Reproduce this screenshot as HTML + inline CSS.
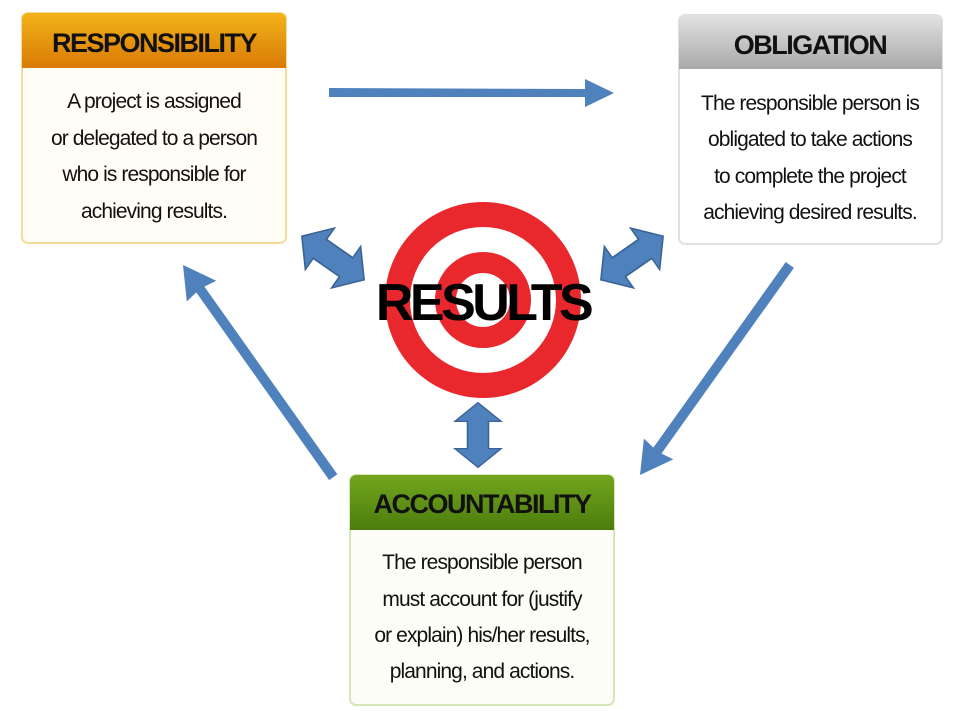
<!DOCTYPE html>
<html><head><meta charset="utf-8"><style>
body{margin:0;background:#fff;}
svg{display:block;}
.b{font-family:"Liberation Sans",sans-serif;font-size:21px;letter-spacing:-0.9px;fill:#111;text-anchor:middle;}
.h{font-family:"Liberation Sans",sans-serif;font-size:27px;font-weight:bold;letter-spacing:-1.5px;fill:#111;text-anchor:middle;}
</style></head><body>
<svg width="959" height="711" viewBox="0 0 959 711" xmlns="http://www.w3.org/2000/svg">
<defs>
<linearGradient id="go" x1="0" y1="0" x2="0" y2="1"><stop offset="0" stop-color="#f3b31a"/><stop offset="1" stop-color="#d97a06"/></linearGradient>
<linearGradient id="gg" x1="0" y1="0" x2="0" y2="1"><stop offset="0" stop-color="#e2e2e2"/><stop offset="1" stop-color="#a9a9a9"/></linearGradient>
<linearGradient id="gn" x1="0" y1="0" x2="0" y2="1"><stop offset="0" stop-color="#73a51f"/><stop offset="1" stop-color="#4c7d0c"/></linearGradient>
<g id="da"><polygon points="-38,0 -16,-22 -16,-10 16,-10 16,-22 38,0 16,22 16,10 -16,10 -16,22" fill="#4f81bd" stroke="#3a6496" stroke-width="1.5"/></g>
</defs>
<rect x="22" y="13" width="264" height="230" rx="6" fill="#fffdf6" stroke="#f6dc9a" stroke-width="2"/>
<path d="M22,68 V19 a6,6 0 0 1 6,-6 H280 a6,6 0 0 1 6,6 V68 Z" fill="url(#go)"/>
<text class="h" x="154" y="52">RESPONSIBILITY</text>
<text class="b" x="154" y="108">A project is assigned</text>
<text class="b" x="154" y="145">or delegated to a person</text>
<text class="b" x="154" y="181">who is responsible for</text>
<text class="b" x="154" y="218">achieving results.</text>
<rect x="679" y="15" width="263" height="229" rx="6" fill="#fff" stroke="#e0e0e0" stroke-width="2"/>
<path d="M679,69 V21 a6,6 0 0 1 6,-6 H936 a6,6 0 0 1 6,6 V69 Z" fill="url(#gg)"/>
<text class="h" x="810" y="54">OBLIGATION</text>
<text class="b" x="810" y="110">The responsible person is</text>
<text class="b" x="810" y="146">obligated to take actions</text>
<text class="b" x="810" y="183">to complete the project</text>
<text class="b" x="810" y="219">achieving desired results.</text>
<rect x="350" y="475" width="264" height="230" rx="6" fill="#fbfdf6" stroke="#d5e6b8" stroke-width="2"/>
<path d="M350,530 V481 a6,6 0 0 1 6,-6 H608 a6,6 0 0 1 6,6 V530 Z" fill="url(#gn)"/>
<text class="h" x="482" y="513">ACCOUNTABILITY</text>
<text class="b" x="482" y="569">The responsible person</text>
<text class="b" x="482" y="606">must account for (justify</text>
<text class="b" x="482" y="642">or explain) his/her results,</text>
<text class="b" x="482" y="678">planning, and actions.</text>
<circle cx="483" cy="300" r="98" fill="#e8282c"/>
<circle cx="483" cy="300" r="73" fill="#fff"/>
<circle cx="483" cy="300" r="48" fill="#e8282c"/>
<circle cx="483" cy="300" r="27" fill="#fff"/>
<text x="483" y="320" font-family="Liberation Sans,sans-serif" font-weight="bold" font-size="52" letter-spacing="-3.5" text-anchor="middle" fill="#000">RESULTS</text>
<polygon points="329,88 585,89 585,79 614,93 585,107 585,97 329,97" fill="#4f81bd"/>
<g transform="translate(183,265) rotate(54.7)">
<polygon points="0,0 32,-18 30,-5 260,-5 260,5 30,5 32,18" fill="#4f81bd"/>
</g>
<g transform="translate(640,475) rotate(-54.5)">
<polygon points="0,0 32,-18 30,-5 258,-5 258,5 30,5 32,18" fill="#4f81bd"/>
</g>
<use href="#da" transform="translate(333,258) rotate(35) scale(1.0,1.15)"/>
<use href="#da" transform="translate(632,258) rotate(-35) scale(1.0,1.15)"/>
<use href="#da" transform="translate(478,435) rotate(90) scale(0.85,1.05)"/>
</svg>
</body></html>
